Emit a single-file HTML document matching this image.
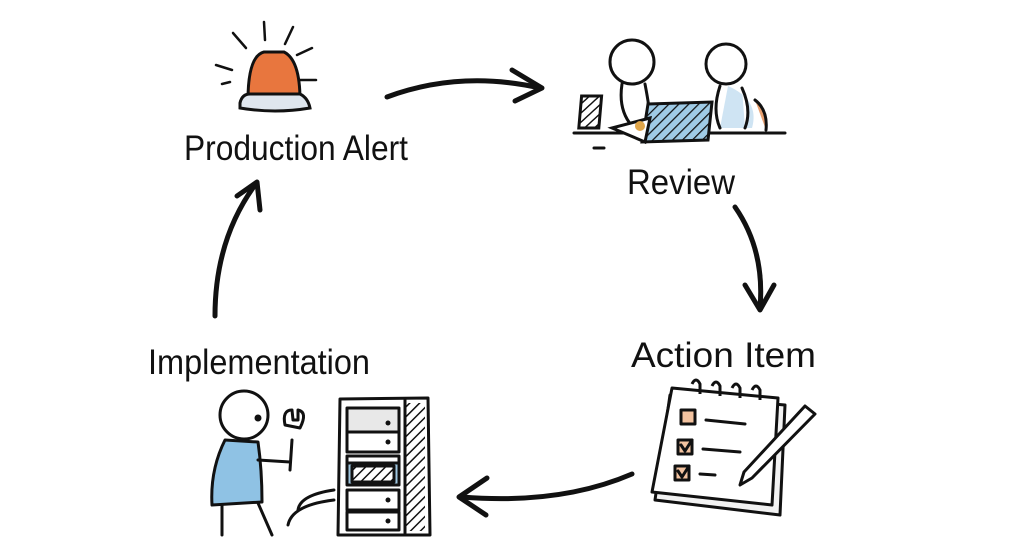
<!DOCTYPE html>
<html><head><meta charset="utf-8"><style>
html,body{margin:0;padding:0;background:#fff;}
svg{display:block;}
text{font-family:"Liberation Sans Narrow","Liberation Sans",sans-serif;fill:#111;}
</style></head><body>
<svg width="1024" height="557" viewBox="0 0 1024 557" xmlns="http://www.w3.org/2000/svg">
<defs>
<pattern id="h" width="7" height="7" patternUnits="userSpaceOnUse" patternTransform="rotate(45)"><rect width="7" height="7" fill="#fff"/><line x1="0" y1="0" x2="0" y2="7" stroke="#111" stroke-width="3"/></pattern>
<pattern id="hb" width="7" height="7" patternUnits="userSpaceOnUse" patternTransform="rotate(45)"><rect width="7" height="7" fill="#9fcbe6"/><line x1="0" y1="0" x2="0" y2="7" stroke="#111" stroke-width="2.5"/></pattern>
</defs>
<g fill="none" stroke="#111" stroke-width="5" stroke-linecap="round" stroke-linejoin="round">
<path d="M387 97 Q460 70 540 88"/><path d="M512 70 L542 88 L515 101"/>
<path d="M735 207 Q765 250 760 308"/><path d="M745 285 L760 310 L774 285"/>
<path d="M632 474 Q560 505 462 497"/><path d="M487 478 L459 497 L486 515"/>
<path d="M215 316 Q215 240 255 185"/><path d="M237 196 L257 182 L260 210"/>
</g>
<g stroke="#111" stroke-width="2.5" stroke-linecap="round" fill="none">
<line x1="264" y1="22" x2="265" y2="40"/><line x1="233" y1="33" x2="246" y2="48"/><line x1="293" y1="27" x2="285" y2="44"/>
<line x1="216" y1="65" x2="232" y2="70"/><line x1="222" y1="84" x2="230" y2="82"/><line x1="297" y1="55" x2="312" y2="48"/><line x1="298" y1="80" x2="316" y2="80"/>
</g>
<path d="M248 100 Q248 56 264 52 L284 52 Q300 60 300 100 Z" fill="#e8763e" stroke="#111" stroke-width="3"/>
<path d="M240 103 Q242 94 250 94 L300 94 Q308 98 310 108 Q275 114 240 108 Z" fill="#dfe6ee" stroke="#111" stroke-width="3"/>
<text x="184" y="160" font-size="35" textLength="224" lengthAdjust="spacingAndGlyphs">Production Alert</text>
<g stroke="#111" stroke-width="3" fill="#fff" stroke-linecap="round">
<rect x="590" y="96" width="20" height="32" fill="url(#h)" transform="skewX(-5)"/>
<path d="M755 100 Q768 110 766 130" fill="#e8a070"/>
<circle cx="632" cy="62" r="22"/>
<path d="M728 86 Q760 100 752 128 L720 128 Z" fill="#cfe4f3" stroke="none"/>
<circle cx="726" cy="64" r="20"/>
<path d="M622 84 Q618 110 632 126"/><path d="M645 84 Q650 110 650 120"/>
<path d="M720 86 Q712 110 720 128"/><path d="M742 88 Q752 110 745 128"/>
<line x1="574" y1="133" x2="785" y2="133"/>
<line x1="594" y1="148" x2="604" y2="148"/>
<path d="M648 104 L712 102 L708 140 L642 142 Z" fill="url(#hb)"/>
<path d="M612 128 L650 118 L645 142 Z" fill="#fff"/>
</g>
<circle cx="640" cy="126" r="5" fill="#e0a64a"/>
<text x="627" y="194" font-size="35" textLength="108" lengthAdjust="spacingAndGlyphs">Review</text>
<text x="631" y="367" font-size="35" textLength="185" lengthAdjust="spacingAndGlyphs">Action Item</text>
<g stroke="#111" stroke-width="3" stroke-linecap="round" stroke-linejoin="round">
<path d="M670 395 L785 405 L780 515 L655 500 Z" fill="#f2f2f2"/>
<path d="M672 388 L778 398 L772 505 L652 492 Z" fill="#fff"/>
<rect x="681" y="410" width="14" height="14" fill="#f3c3a0"/>
<rect x="678" y="440" width="14" height="14" fill="#f3c3a0"/>
<rect x="675" y="466" width="14" height="14" fill="#f3c3a0"/>
<line x1="706" y1="420" x2="745" y2="424"/><line x1="703" y1="449" x2="740" y2="452"/><line x1="700" y1="474" x2="715" y2="475"/>
<path d="M681 445 L685 451 L692 440" fill="none"/><path d="M678 471 L682 477 L689 466" fill="none"/>
<path d="M805 406 L815 414 L752 478 L740 485 L744 472 Z" fill="#fff"/>
</g>
<g stroke="#111" stroke-width="3" fill="none"><path d="M692 384 q4 -8 8 0 v10"/><path d="M712 386 q4 -8 8 0 v10"/><path d="M732 388 q4 -8 8 0 v10"/><path d="M752 390 q4 -8 8 0 v10"/></g>
<text x="148" y="374" font-size="35" textLength="222" lengthAdjust="spacingAndGlyphs">Implementation</text>
<g stroke="#111" stroke-width="3" stroke-linecap="round" stroke-linejoin="round">
<path d="M225 440 Q210 470 212 505 L262 502 Q262 470 258 442 Z" fill="#8fc2e4"/>
<circle cx="244" cy="415" r="24" fill="#fff"/>
<circle cx="258" cy="418" r="2" fill="#111"/>
<line x1="222" y1="505" x2="222" y2="535" fill="none"/><line x1="258" y1="503" x2="272" y2="535" fill="none"/>
<path d="M258 460 L290 462" fill="none"/>
<path d="M292 440 L290 470" fill="none"/><path d="M285 425 Q282 410 292 410 L293 420 L298 420 L298 410 Q308 412 300 428 Z" fill="#fff"/>
<path d="M298 510 Q300 495 334 490 M288 525 Q292 505 334 500" fill="none"/>
<path d="M340 399 L428 398 L430 535 L338 535 Z" fill="#fff"/>
<rect x="405" y="403" width="20" height="128" fill="url(#h)" stroke="none"/>
<line x1="405" y1="400" x2="405" y2="533"/>
<rect x="347" y="408" width="52" height="24" fill="#e8e8e8"/>
<rect x="347" y="432" width="52" height="20" fill="#fff"/>
<rect x="347" y="456" width="52" height="22" fill="#fff"/>
<rect x="347" y="463" width="52" height="22" fill="#9fc6e0"/>
<rect x="352" y="466" width="42" height="16" fill="url(#h)"/>
<rect x="347" y="490" width="52" height="20" fill="#fff"/>
<rect x="347" y="512" width="52" height="18" fill="#fff"/>
</g>
<g fill="#111"><circle cx="388" cy="423" r="2.5"/><circle cx="388" cy="442" r="2.5"/><circle cx="388" cy="500" r="2.5"/><circle cx="388" cy="521" r="2.5"/></g>
</svg>
</body></html>
